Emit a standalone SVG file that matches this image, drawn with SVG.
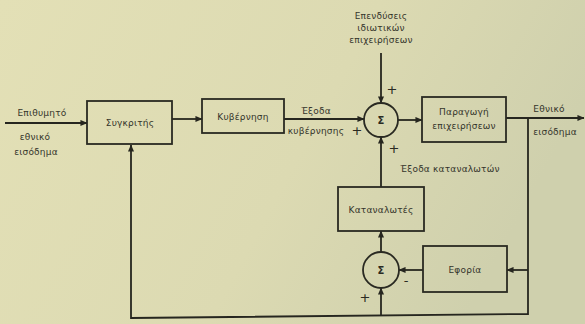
<svg xmlns="http://www.w3.org/2000/svg" width="585" height="324" viewBox="0 0 585 324">
  <defs>
    <linearGradient id="paper" x1="0" y1="0" x2="1" y2="0.3">
      <stop offset="0" stop-color="#e3e0b6"/>
      <stop offset="0.6" stop-color="#dcdab2"/>
      <stop offset="1" stop-color="#cfd0ad"/>
    </linearGradient>
    <marker id="arrow" viewBox="0 0 8 8" refX="7.5" refY="4" markerWidth="7" markerHeight="7" markerUnits="userSpaceOnUse" orient="auto">
      <path d="M0,0.5 L8,4 L0,7.5 Z" fill="#26261f"/>
    </marker>
    <style>
      .box { fill: none; stroke: #2a2a22; stroke-width: 1.8; }
      .sum { fill: none; stroke: #2a2a22; stroke-width: 1.8; }
      .wire { fill: none; stroke: #26261f; stroke-width: 1.8; }
      .lbl { font-family: "DejaVu Sans", "Liberation Sans", sans-serif; font-size: 9px; fill: #34342b; text-anchor: middle; letter-spacing: 0.2px; }
      .sign { font-family: "DejaVu Sans", "Liberation Sans", sans-serif; font-size: 13px; fill: #2a2a22; text-anchor: middle; }
      .sym { font-family: "DejaVu Sans", "Liberation Sans", sans-serif; font-size: 10px; font-weight: bold; fill: #2a2a22; text-anchor: middle; }
    </style>
  </defs>

  <!-- page background -->
  <rect x="0" y="0" width="585" height="324" fill="url(#paper)"/>

  <!-- connectors -->
  <g id="connectors">
    <line class="wire" x1="5" y1="123" x2="87" y2="123" marker-end="url(#arrow)"/>
    <line class="wire" x1="172" y1="119" x2="202" y2="119" marker-end="url(#arrow)"/>
    <line class="wire" x1="284" y1="119" x2="364" y2="119" marker-end="url(#arrow)"/>
    <line class="wire" x1="381" y1="53" x2="381" y2="103" marker-end="url(#arrow)"/>
    <line class="wire" x1="381" y1="187" x2="381" y2="137" marker-end="url(#arrow)"/>
    <line class="wire" x1="398" y1="120" x2="422" y2="120" marker-end="url(#arrow)"/>
    <line class="wire" x1="506" y1="118" x2="584" y2="118" marker-end="url(#arrow)"/>
    <polyline class="wire" points="528,118 528,314 131,318 131,145" marker-end="url(#arrow)"/>
    <line class="wire" x1="528" y1="270" x2="507" y2="270" marker-end="url(#arrow)"/>
    <line class="wire" x1="423" y1="270" x2="399" y2="270" marker-end="url(#arrow)"/>
    <line class="wire" x1="381" y1="316" x2="381" y2="288" marker-end="url(#arrow)"/>
    <line class="wire" x1="381" y1="252" x2="381" y2="231" marker-end="url(#arrow)"/>
  </g>

  <!-- connector labels and signs -->
  <g id="labels">
    <text class="lbl" x="42" y="116">Επιθυμητό</text>
    <text class="lbl" x="35" y="140">εθνικό</text>
    <text class="lbl" x="36" y="155">εισόδημα</text>

    <text class="lbl" x="381" y="19">Επενδύσεις</text>
    <text class="lbl" x="381" y="31">ιδιωτικών</text>
    <text class="lbl" x="381" y="43">επιχειρήσεων</text>

    <text class="lbl" x="316" y="114">Έξοδα</text>
    <text class="lbl" x="316" y="134">κυβέρνησης</text>

    <text class="lbl" x="549" y="112">Εθνικό</text>
    <text class="lbl" x="555" y="135">εισόδημα</text>

    <text class="lbl" x="450" y="172">Έξοδα καταναλωτών</text>

    <text class="sign" x="392" y="94">+</text>
    <text class="sign" x="357" y="135">+</text>
    <text class="sign" x="394" y="153">+</text>
    <text class="sign" x="406" y="285">-</text>
    <text class="sign" x="365" y="302">+</text>
  </g>

  <!-- blocks -->
  <g id="comparator">
    <rect class="box" x="87" y="101" width="85" height="43"/>
    <text class="lbl" x="130" y="126">Συγκριτής</text>
  </g>
  <g id="government">
    <rect class="box" x="202" y="99" width="82" height="34"/>
    <text class="lbl" x="243" y="120">Κυβέρνηση</text>
  </g>
  <g id="sum-upper">
    <circle class="sum" cx="381" cy="120" r="17"/>
    <text class="sym" x="381" y="124">Σ</text>
  </g>
  <g id="production">
    <rect class="box" x="422" y="97" width="84" height="45"/>
    <text class="lbl" x="464" y="115">Παραγωγή</text>
    <text class="lbl" x="464" y="129">επιχειρήσεων</text>
  </g>
  <g id="consumers">
    <rect class="box" x="338" y="187" width="86" height="44"/>
    <text class="lbl" x="381" y="213">Καταναλωτές</text>
  </g>
  <g id="sum-lower">
    <circle class="sum" cx="381" cy="270" r="18"/>
    <text class="sym" x="381" y="274">Σ</text>
  </g>
  <g id="taxation">
    <rect class="box" x="423" y="246" width="84" height="46"/>
    <text class="lbl" x="465" y="273">Εφορία</text>
  </g>
</svg>
